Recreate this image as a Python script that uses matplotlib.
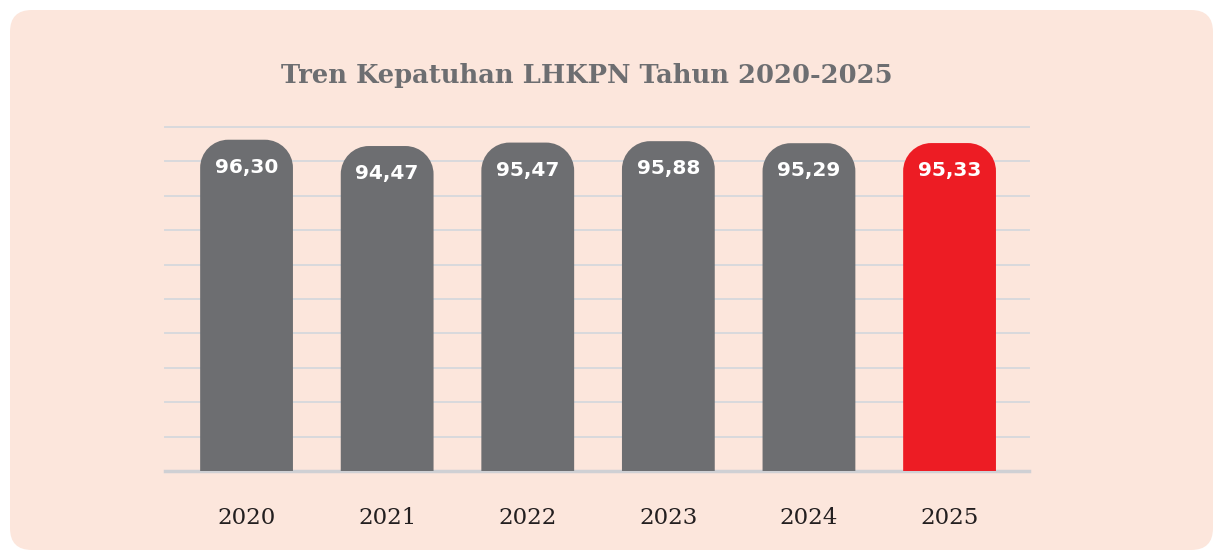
import matplotlib
matplotlib.use("Agg")
import matplotlib.pyplot as plt
from matplotlib.patches import FancyBboxPatch, PathPatch
from matplotlib.path import Path

# data
years = ["2020", "2021", "2022", "2023", "2024", "2025"]
compliance = [96.30, 94.47, 95.47, 95.88, 95.29, 95.33]
value_labels = ["96,30", "94,47", "95,47", "95,88", "95,29", "95,33"]
highlight_year = "2025"

GREY = "#6d6e71"
RED = "#ed1c24"
PANEL = "#fce6dc"
GRID = "#d9d9dc"

W, H = 1215, 552
fig = plt.figure(figsize=(W / 100, H / 100), dpi=100, facecolor="white")

# rounded peach panel behind everything
panel = FancyBboxPatch((10 / W, 2 / H), 1203 / W, 540 / H,
                       boxstyle="round,pad=0,rounding_size=0.018",
                       mutation_aspect=W / H,
                       transform=fig.transFigure, facecolor=PANEL,
                       edgecolor="none", zorder=-5)
fig.patches.append(panel)

ax = fig.add_axes([165 / W, 81 / H, 864 / W, 344 / H])
ax.set_zorder(2)
ax.set_facecolor("none")
ax.set_xlim(-0.58, 5.565)
ax.set_ylim(0, 100)

for y in range(10, 101, 10):
    ax.axhline(y, color=GRID, lw=1.4, zorder=1, clip_on=False)
ax.axhline(0, color="#cfd0d4", lw=2.5, zorder=1.5, clip_on=False)


def rounded_top_bar(x0, width, height, rx, ry):
    # bar with only the two upper corners rounded (cubic arcs)
    k = 0.5523
    x1 = x0 + width
    verts = [
        (x0, 0), (x0, height - ry),
        (x0, height - ry + k * ry), (x0 + rx - k * rx, height), (x0 + rx, height),
        (x1 - rx, height),
        (x1 - rx + k * rx, height), (x1, height - ry + k * ry), (x1, height - ry),
        (x1, 0), (x0, 0),
    ]
    codes = [Path.MOVETO, Path.LINETO,
             Path.CURVE4, Path.CURVE4, Path.CURVE4,
             Path.LINETO,
             Path.CURVE4, Path.CURVE4, Path.CURVE4,
             Path.LINETO, Path.CLOSEPOLY]
    return Path(verts, codes)


bw = 0.66
rx = 0.2
px_per_x = 864 / (5.565 + 0.58)
px_per_y = 344 / 100
ry = rx * px_per_x / px_per_y
for i, (yr, v, lab) in enumerate(zip(years, compliance, value_labels)):
    c = RED if yr == highlight_year else GREY
    ax.add_patch(PathPatch(rounded_top_bar(i - bw / 2, bw, v, rx, ry),
                           facecolor=c, edgecolor="none", zorder=2))
    ax.text(i, v - 8, lab, ha="center", va="center", color="white",
            fontsize=14.5, fontweight="bold", family="DejaVu Sans", zorder=4)
    ax.text(i, -13.8, yr, ha="center", va="center", color="#231f20",
            fontsize=16.5, family="DejaVu Serif", clip_on=False)

for s in ax.spines.values():
    s.set_visible(False)
ax.set_xticks([])
ax.set_yticks([])

fig.text(587 / W, 1 - 75 / H, "Tren Kepatuhan LHKPN Tahun 2020-2025",
         ha="center", va="center", color=GREY, fontsize=18.5,
         fontweight="bold", family="DejaVu Serif")

fig.savefig("out.png", dpi=100, facecolor="white")
